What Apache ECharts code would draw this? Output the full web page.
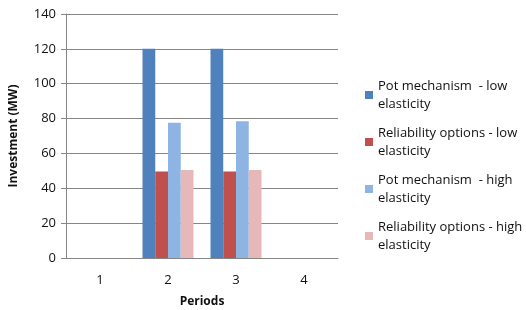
<!DOCTYPE html>
<html>
<head>
<meta charset="utf-8">
<script src="https://cdn.jsdelivr.net/npm/echarts@6/dist/echarts.min.js"></script>
<style>
  html, body { margin: 0; padding: 0; background: #fff; }
  #chart { width: 526px; height: 310px; }
</style>
</head>
<body>
<div id="chart"></div>
<script>
// periods on the x axis
const periods = ['1', '2', '3', '4'];

// investment (MW) per period
const potLow = [0, 120, 120, 0];
const reliabilityLow = [0, 49.7, 49.7, 0];
const potHigh = [0, 77.6, 78.4, 0];
const reliabilityHigh = [0, 50.5, 50.5, 0];

const seriesNames = [
  'Pot mechanism  - low\nelasticity',
  'Reliability options - low\nelasticity',
  'Pot mechanism  - high\nelasticity',
  'Reliability options - high\nelasticity'
];
const seriesColors = ['#4F81BD', '#C0504D', '#8EB4E3', '#E6B9B8'];
const seriesData = [potLow, reliabilityLow, potHigh, reliabilityHigh];

const font = "'Open Sans', 'Liberation Sans', sans-serif";

const chart = echarts.init(document.getElementById('chart'));

const option = {
  animation: false,
  textStyle: { fontFamily: font },
  grid: { left: 66, right: 188, top: 14, bottom: 52, containLabel: false, outerBoundsMode: 'none' },
  legend: {
    orient: 'vertical',
    left: 365,
    top: 68,
    padding: 0,
    itemWidth: 8,
    itemHeight: 8,
    itemGap: -7,
    itemTextGap: 4,
    icon: 'rect',
    textStyle: {
      fontFamily: font,
      fontSize: 13,
      color: '#111',
      lineHeight: 18,
      padding: [18, 0, 0, 0]
    },
    data: seriesNames
  },
  xAxis: {
    type: 'category',
    data: periods,
    name: 'Periods',
    nameLocation: 'middle',
    nameGap: 38,
    nameTextStyle: { fontFamily: font, fontSize: 12, fontWeight: 'bold', color: '#111' },
    axisLine: { lineStyle: { color: '#868686' } },
    axisTick: { length: 5, lineStyle: { color: '#868686' } },
    axisLabel: { fontSize: 13, color: '#111', margin: 16 }
  },
  yAxis: {
    type: 'value',
    min: 0,
    max: 140,
    interval: 20,
    name: 'Investment (MW)',
    nameLocation: 'middle',
    nameGap: 46,
    nameTextStyle: { fontFamily: font, fontSize: 12, fontWeight: 'bold', color: '#111' },
    axisLine: { show: true, lineStyle: { color: '#868686' } },
    axisTick: { show: true, length: 5, lineStyle: { color: '#868686' } },
    axisLabel: { fontSize: 13, color: '#111', margin: 10 },
    splitLine: { lineStyle: { color: '#868686' } }
  },
  series: seriesNames.map((name, i) => ({
    name: name,
    type: 'bar',
    data: seriesData[i],
    barGap: '0%',
    barCategoryGap: '25%',
    itemStyle: { color: seriesColors[i] }
  }))
};

chart.setOption(option);
</script>
</body>
</html>
